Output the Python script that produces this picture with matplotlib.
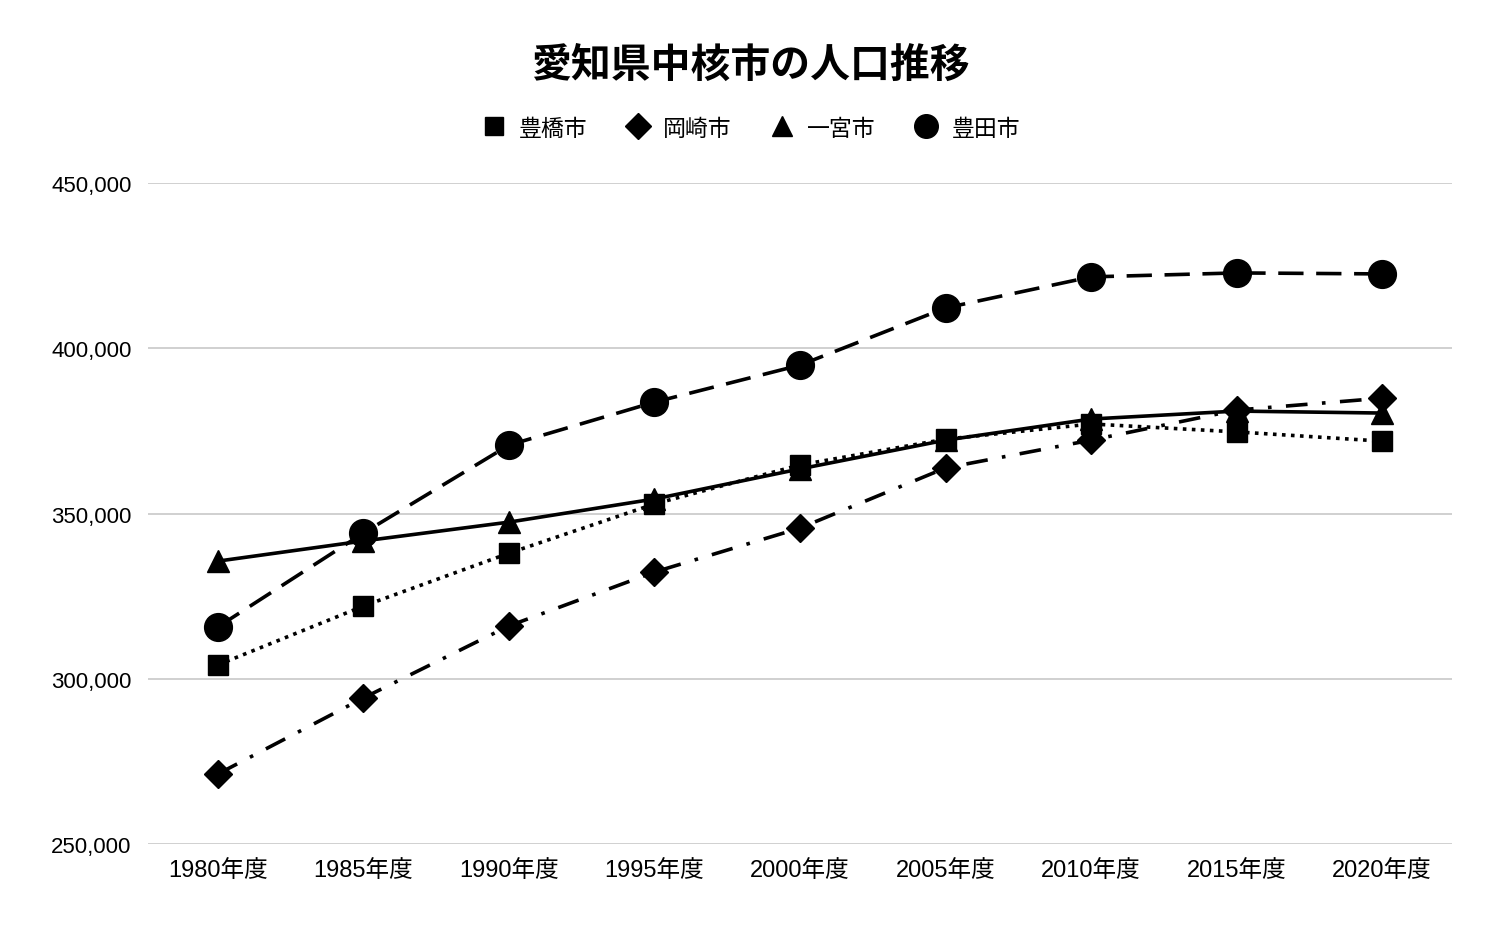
import matplotlib
matplotlib.use("Agg")
import matplotlib.pyplot as plt
from matplotlib.ticker import FuncFormatter

plt.rcParams['font.family'] = ['Liberation Sans', 'Noto Sans CJK JP', 'DejaVu Sans']

years = ["1980年度", "1985年度", "1990年度", "1995年度", "2000年度",
         "2005年度", "2010年度", "2015年度", "2020年度"]
toyohashi = [304200, 322000, 338000, 352900, 364700, 372500, 377100, 374700, 371900]
okazaki = [271200, 294200, 316000, 332300, 345600, 363800, 372200, 381300, 384900]
ichinomiya = [335600, 341700, 347400, 354400, 363500, 372200, 378600, 381000, 380400]
toyota = [315700, 344100, 370700, 383700, 394900, 412200, 421600, 422800, 422500]

fig = plt.figure(figsize=(15, 9.28), dpi=100)
ax = fig.add_axes([0.0987, 0.0894, 0.8693, 0.7123])
x = list(range(len(years)))

lw = 2.6
ax.plot(x, toyohashi, color='black', lw=lw, linestyle=(0, (1, 1.5)), marker='s', markersize=15, label='豊橋市', zorder=3)
ax.plot(x, okazaki, color='black', lw=lw, linestyle=(0, (6, 4, 1, 4)), marker='D', markersize=14, label='岡崎市', zorder=3)
ax.plot(x, ichinomiya, color='black', lw=lw, linestyle='-', marker='^', markersize=16, label='一宮市', zorder=3)
ax.plot(x, toyota, color='black', lw=lw, linestyle=(0, (7, 3.5)), marker='o', markersize=20, label='豊田市', zorder=3)

ax.set_xlim(-0.48, 8.48)
ax.set_ylim(250000, 450000)
ax.set_yticks([250000, 300000, 350000, 400000, 450000])
ax.yaxis.set_major_formatter(FuncFormatter(lambda v, p: f"{int(v):,}"))
ax.set_xticks(x)
ax.set_xticklabels(years)
ax.grid(axis='y', color='#c8c8c8', lw=1.2)
ax.set_axisbelow(True)
for s in ax.spines.values():
    s.set_visible(False)
ax.tick_params(axis='both', length=0, colors='black')
ax.tick_params(axis='x', pad=11, labelsize=17)
ax.tick_params(axis='y', pad=12, labelsize=16)
for lab in ax.get_xticklabels():
    lab.set_family(['Liberation Sans', 'Noto Sans CJK JP', 'DejaVu Sans'])
for lab in ax.get_yticklabels():
    lab.set_family(['Liberation Sans', 'DejaVu Sans'])

fig.text(0.5, 1 - 65 / 928, '愛知県中核市の人口推移', ha='center', va='center',
         fontsize=28.7, fontweight='bold', family=['Noto Sans CJK JP', 'DejaVu Sans'])

handles = [
    plt.Line2D([], [], color='black', marker='s', linestyle='none', markersize=13),
    plt.Line2D([], [], color='black', marker='D', linestyle='none', markersize=13),
    plt.Line2D([], [], color='black', marker='^', linestyle='none', markersize=14),
    plt.Line2D([], [], color='black', marker='o', linestyle='none', markersize=17),
]
fig.legend(handles, ['豊橋市', '岡崎市', '一宮市', '豊田市'], loc='center',
           bbox_to_anchor=(0.5, 1 - 129 / 928), ncol=4, frameon=False,
           prop={'family': ['Noto Sans CJK JP', 'DejaVu Sans'], 'size': 16.5},
           handletextpad=0.5, columnspacing=1.6, handlelength=1.2)

fig.savefig('out.png', dpi=100, facecolor='white')
